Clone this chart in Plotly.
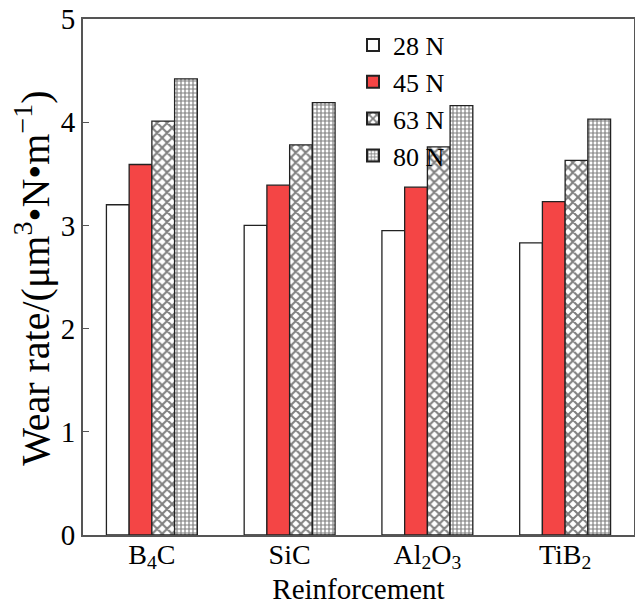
import plotly.graph_objects as go

# Reinforcement types (HTML sub/superscripts for chemical formulas)
categories = ["B<sub>4</sub>C", "SiC", "Al<sub>2</sub>O<sub>3</sub>", "TiB<sub>2</sub>"]

# Wear rate (μm^3·N·m^-1) for each applied load
load_labels = ["28 N", "45 N", "63 N", "80 N"]
wear_28N = [3.20, 3.00, 2.95, 2.83]
wear_45N = [3.59, 3.39, 3.37, 3.23]
wear_63N = [4.01, 3.78, 3.76, 3.63]
wear_80N = [4.42, 4.19, 4.16, 4.03]

series = [wear_28N, wear_45N, wear_63N, wear_80N]

styles = [
    dict(color="white"),
    dict(color="#f44545"),
    dict(color="white", pattern=dict(shape="x", fgcolor="black", bgcolor="white",
                                     size=7, solidity=0.5)),
    dict(color="white", pattern=dict(shape="+", fgcolor="black", bgcolor="white",
                                     size=4, solidity=0.5)),
]

font_family = "Liberation Serif, Times New Roman, serif"

fig = go.Figure()
for name, vals, st in zip(load_labels, series, styles):
    marker = dict(line=dict(color="#222", width=1.3), **st)
    fig.add_trace(go.Bar(x=categories, y=vals, name=name, marker=marker))

fig.update_layout(
    width=635, height=607,
    margin=dict(l=83, r=1, t=19, b=72),
    paper_bgcolor="white", plot_bgcolor="white",
    barmode="group", bargap=0.34, bargroupgap=0,
    font=dict(family=font_family, color="black", size=24),
    legend=dict(x=0.49, y=0.995, xanchor="left", yanchor="top",
                bgcolor="rgba(0,0,0,0)", font=dict(family=font_family, size=26),
                itemsizing="constant", tracegroupgap=0),
    showlegend=True,
)

fig.update_xaxes(
    range=[-0.5, 3.5], showline=True, linecolor="#555", linewidth=2,
    mirror=True, ticks="", showgrid=False, automargin=False,
    tickfont=dict(size=28), ticklabelstandoff=-7,
    title=dict(text="Reinforcement", font=dict(size=29), standoff=0),
)
fig.update_yaxes(
    range=[0, 5], dtick=1, showline=True, linecolor="#555", linewidth=2,
    mirror=True, ticks="inside", ticklen=6, tickcolor="#555", showgrid=False,
    zeroline=False, automargin=False, tickfont=dict(size=29),
)

# Rotated y-axis title placed as an annotation for precise centring
fig.add_annotation(
    text="Wear rate/(μm<sup>3</sup>•N•m<sup>−1</sup>)",
    xref="paper", yref="paper", x=-0.092, y=0.497,
    xanchor="center", yanchor="middle", textangle=-90,
    showarrow=False, font=dict(size=40),
)

fig.write_html("out.html")
